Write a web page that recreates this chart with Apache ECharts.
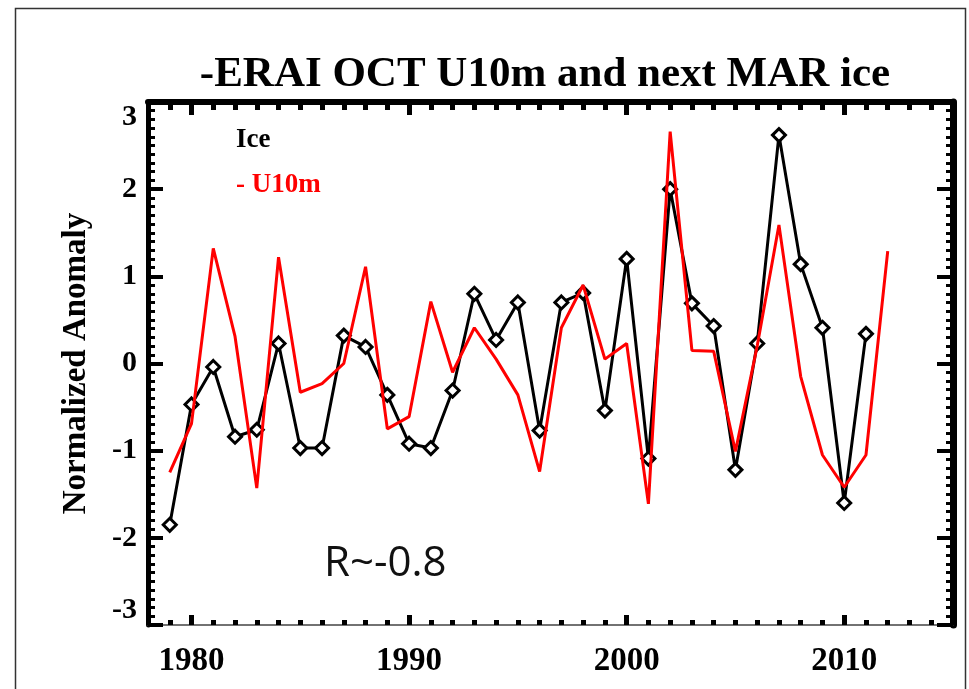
<!DOCTYPE html>
<html>
<head>
<meta charset="utf-8">
<script src="https://cdn.jsdelivr.net/npm/echarts@6/dist/echarts.min.js"></script>
<style>
  html, body { margin: 0; padding: 0; background: #fff; }
  #chart { width: 969px; height: 689px; }
</style>
</head>
<body>
<div id="chart"></div>
<script>
// March sea-ice anomaly (normalized), 1979-2011
const iceYears = [1979, 1980, 1981, 1982, 1983, 1984, 1985, 1986, 1987, 1988, 1989,
  1990, 1991, 1992, 1993, 1994, 1995, 1996, 1997, 1998, 1999,
  2000, 2001, 2002, 2003, 2004, 2005, 2006, 2007, 2008, 2009, 2010, 2011];
const iceValues = [-1.85, -0.47, -0.04, -0.84, -0.76, 0.23, -0.97, -0.97, 0.32, 0.19, -0.36,
  -0.92, -0.97, -0.31, 0.80, 0.27, 0.70, -0.77, 0.70, 0.81, -0.54,
  1.20, -1.09, 2.00, 0.69, 0.43, -1.22, 0.23, 2.62, 1.14, 0.41, -1.60, 0.34];

// Negated October ERA-Interim 10 m zonal wind anomaly (normalized), 1979-2012
const windYears = [1979, 1980, 1981, 1982, 1983, 1984, 1985, 1986, 1987, 1988, 1989,
  1990, 1991, 1992, 1993, 1994, 1995, 1996, 1997, 1998, 1999,
  2000, 2001, 2002, 2003, 2004, 2005, 2006, 2007, 2008, 2009, 2010, 2011, 2012];
const windValues = [-1.25, -0.69, 1.32, 0.31, -1.43, 1.22, -0.33, -0.23, 0.00, 1.11, -0.75,
  -0.61, 0.71, -0.10, 0.41, 0.05, -0.36, -1.24, 0.41, 0.90, 0.05,
  0.23, -1.61, 2.66, 0.15, 0.14, -1.01, 0.20, 1.59, -0.15, -1.05, -1.42, -1.05, 1.29];

// Axis ticks
const majorYears = [1980, 1990, 2000, 2010];
const yTicks = [-3, -2, -1, 0, 1, 2, 3];

const titleText = '-ERAI OCT U10m and next MAR ice';
const iceName = 'Ice';
const windName = '- U10m';
const corrText = 'R~-0.8';

const serif = 'Liberation Serif';
const black = '#000';
const red = '#ff0000';

const chart = echarts.init(document.getElementById('chart'), null, { renderer: 'canvas' });

const xBase = {
  type: 'value', gridIndex: 0,
  min: 1978, max: 2015,
  splitLine: { show: false }
};

const yBase = {
  type: 'value', gridIndex: 0,
  min: yTicks[0], max: yTicks[yTicks.length - 1], interval: 1,
  splitLine: { show: false },
  minorSplitLine: { show: false },
  minorTick: { show: true, splitNumber: 10, length: 7, lineStyle: { color: black, width: 3 } }
};

const option = {
  animation: false,
  backgroundColor: '#fff',
  title: {
    text: titleText,
    left: 540, top: 48,
    textAlign: 'center',
    textStyle: { fontFamily: serif, fontWeight: 'bold', fontSize: 43, color: black }
  },
  legend: {
    orient: 'vertical',
    left: 226, top: 122,
    icon: 'none',
    itemWidth: 0, itemHeight: 22, itemGap: 18,
    selectedMode: false,
    textStyle: { fontFamily: serif, fontWeight: 'bold', fontSize: 27 },
    data: [
      { name: iceName, textStyle: { color: black } },
      { name: windName, textStyle: { color: red } }
    ]
  },
  grid: { left: 148, right: 16, top: 102, bottom: 64, containLabel: false },
  xAxis: [
    // bottom: yearly ticks + decade labels
    Object.assign({}, xBase, {
      position: 'bottom', interval: 1,
      axisLine: { show: true, onZero: false, lineStyle: { color: '#444', width: 1.5 } },
      axisTick: { show: true, inside: true, length: 5, lineStyle: { color: black, width: 5 } },
      axisLabel: {
        show: true, margin: 20, color: black,
        fontFamily: serif, fontWeight: 'bold', fontSize: 33,
        formatter: v => (majorYears.indexOf(Math.round(v)) >= 0 ? String(Math.round(v)) : '')
      }
    }),
    // bottom: decade ticks
    Object.assign({}, xBase, {
      position: 'bottom',
      axisLine: { show: false, onZero: false },
      axisTick: { show: true, inside: true, length: 10, customValues: majorYears, lineStyle: { color: black, width: 5 } },
      axisLabel: { show: false }
    }),
    // top: yearly ticks
    Object.assign({}, xBase, {
      position: 'top', interval: 1,
      axisLine: { show: true, onZero: false, lineStyle: { color: black, width: 6 } },
      axisTick: { show: true, inside: true, length: 8, lineStyle: { color: black, width: 5 } },
      axisLabel: { show: false }
    }),
    // top: decade ticks
    Object.assign({}, xBase, {
      position: 'top',
      axisLine: { show: false, onZero: false },
      axisTick: { show: true, inside: true, length: 13, customValues: majorYears, lineStyle: { color: black, width: 5 } },
      axisLabel: { show: false }
    })
  ],
  yAxis: [
    Object.assign({}, yBase, {
      position: 'left',
      axisLine: { show: true, onZero: false, lineStyle: { color: black, width: 5 } },
      axisTick: { show: true, inside: true, length: 15, lineStyle: { color: black, width: 4 } },
      axisLabel: {
        show: true, margin: 11, color: black,
        fontFamily: serif, fontWeight: 'bold', fontSize: 30,
        verticalAlignMinLabel: 'bottom', verticalAlignMaxLabel: 'top'
      },
      name: 'Normalized Anomaly',
      nameLocation: 'middle',
      nameGap: 55,
      nameTextStyle: { fontFamily: serif, fontWeight: 'bold', fontSize: 33, color: black }
    }),
    Object.assign({}, yBase, {
      position: 'right',
      axisLine: { show: true, onZero: false, lineStyle: { color: black, width: 7 } },
      axisTick: { show: true, inside: true, length: 16, lineStyle: { color: black, width: 4 } },
      axisLabel: { show: false }
    })
  ],
  series: [
    {
      name: iceName,
      type: 'line',
      xAxisIndex: 0, yAxisIndex: 0,
      data: iceYears.map((y, i) => [y, iceValues[i]]),
      symbol: 'diamond',
      symbolSize: 13,
      showAllSymbol: true,
      lineStyle: { color: black, width: 3 },
      itemStyle: { color: '#fff', borderColor: black, borderWidth: 3 },
      z: 3
    },
    {
      name: windName,
      type: 'line',
      xAxisIndex: 0, yAxisIndex: 0,
      data: windYears.map((y, i) => [y, windValues[i]]),
      symbol: 'none',
      lineStyle: { color: red, width: 3 },
      itemStyle: { color: red },
      z: 4
    }
  ],
  graphic: [
    {
      type: 'rect', silent: true, z: 0,
      shape: { x: 15.5, y: 8.5, width: 950, height: 720 },
      style: { fill: 'none', stroke: '#333', lineWidth: 1.5 }
    },
    {
      type: 'text', silent: true,
      left: 324, top: 543,
      style: { text: corrText, fontFamily: 'Open Sans', fontSize: 42, fill: '#111' }
    }
  ]
};

chart.setOption(option);
</script>
</body>
</html>
